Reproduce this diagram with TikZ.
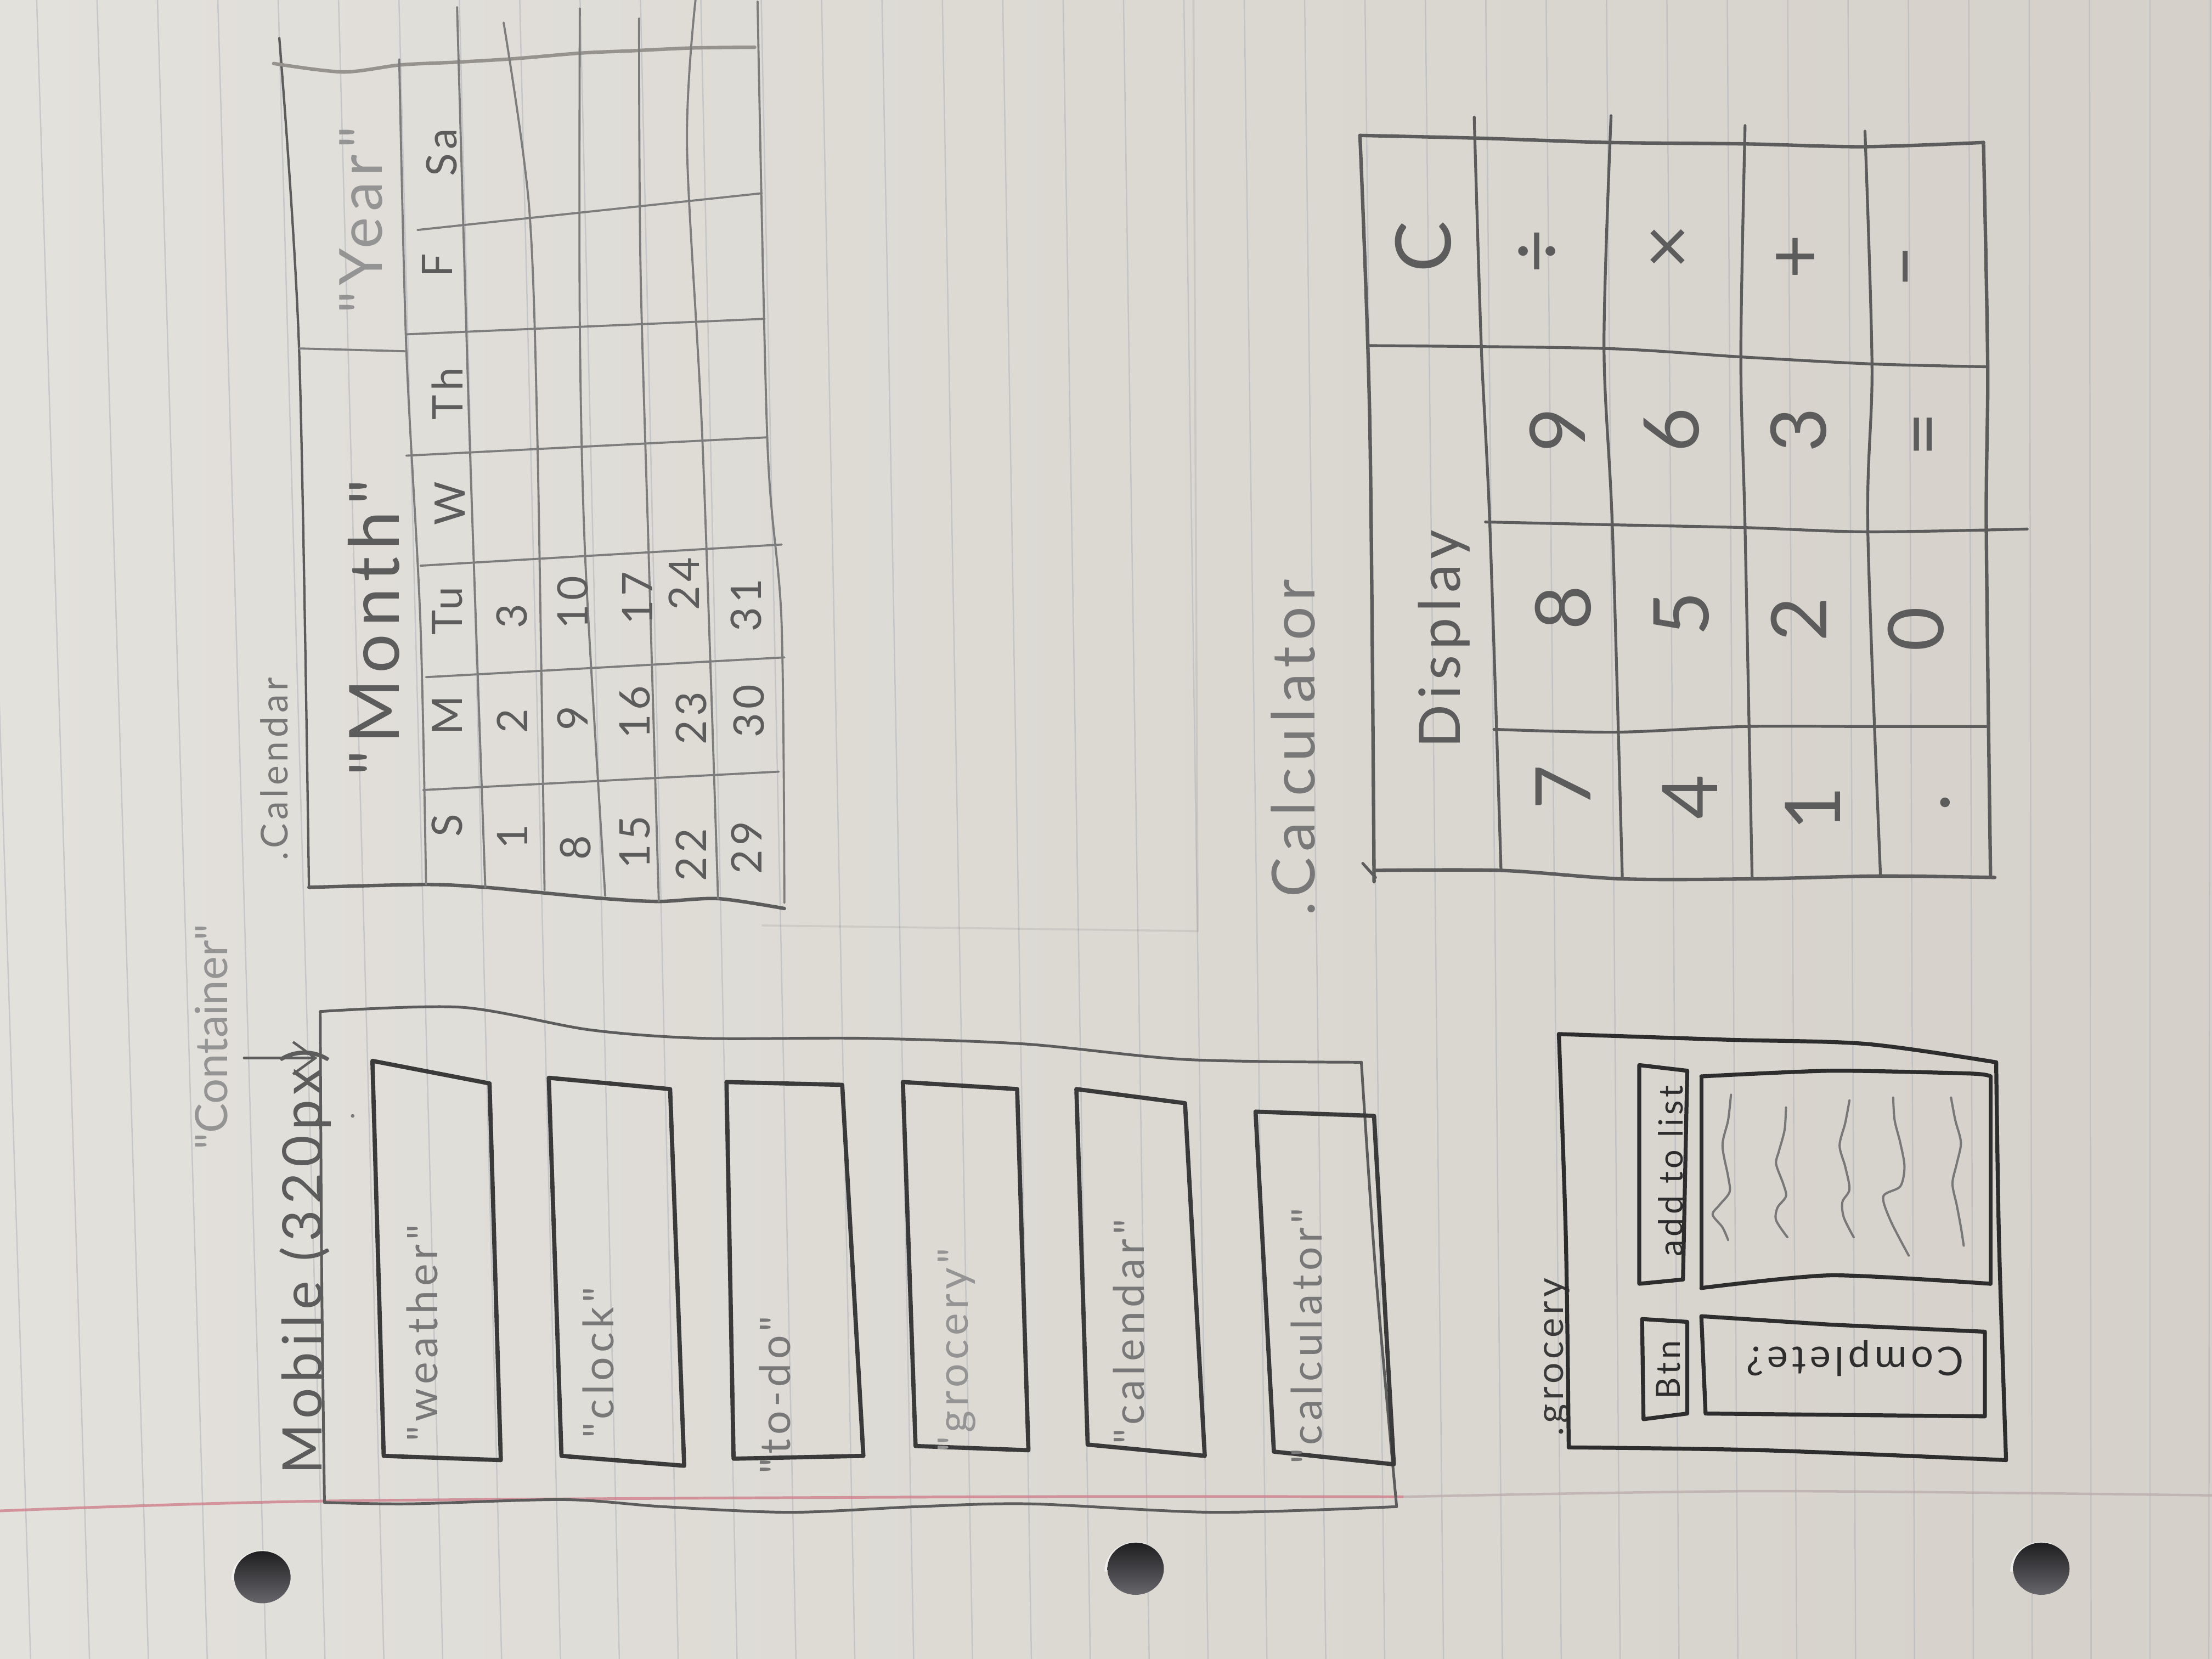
\documentclass[tikz,border=0pt]{standalone}
\usepackage{fontspec}
\usetikzlibrary{arrows.meta}
\newfontfamily\hand[LetterSpace=10]{Lato}
\newfontfamily\handtight{Lato}
\newcommand\handsz[1]{\hand\fontsize{#1}{#1}\selectfont}
\newcommand\handtsz[1]{\handtight\fontsize{#1}{#1}\selectfont}

\definecolor{paperL}{RGB}{227,225,220}
\definecolor{paperR}{RGB}{213,209,202}
\definecolor{rulecol}{RGB}{176,180,188}
\definecolor{margincol}{RGB}{206,128,140}
\definecolor{marginfade}{RGB}{185,170,170}
\definecolor{ink1}{RGB}{92,92,92}
\definecolor{ink2}{RGB}{120,120,120}
\definecolor{ink3}{RGB}{148,148,148}
\definecolor{inkdark}{RGB}{58,58,58}
\definecolor{inkvdark}{RGB}{45,45,45}
\definecolor{gridcol}{RGB}{125,125,125}
\definecolor{toplinecol}{RGB}{150,146,142}
\definecolor{holetop}{RGB}{28,28,30}
\definecolor{holebot}{RGB}{105,105,110}
\definecolor{holerim}{RGB}{245,245,245}

\tikzset{
  pencil/.style={line cap=round, line join=round},
  frame/.style={pencil, draw=ink1, line width=1.1pt},
  widget/.style={pencil, draw=inkdark, line width=1.7pt},
  grid/.style={pencil, draw=gridcol, line width=0.85pt},
  calcline/.style={pencil, draw=ink1, line width=1.15pt},
  groc/.style={pencil, draw=inkvdark, line width=1.6pt},
  squig/.style={pencil, draw=ink2, line width=0.9pt},
  ruled/.style={draw=rulecol, line width=0.55pt, opacity=0.55},
  htext/.style={anchor=base, rotate=90, inner sep=0pt},
  ctext/.style={anchor=center, rotate=90, inner sep=0pt},
}

\begin{document}
\begin{tikzpicture}[x=0.02cm, y=-0.02cm]
\useasboundingbox (0,0) rectangle (1568,1176);
\clip (0,0) rectangle (1568,1176);

% notebook paper
\shade[left color=paperL, right color=paperR] (0,0) rectangle (1568,1176);
\foreach \m in {-6,...,31} {
  \pgfmathsetmacro\xb{270+41.8*\m}
  \pgfmathsetmacro\sl{30-\m}
  \draw[ruled] ({\xb-\sl},0) -- ({\xb+0.07*\sl},1176);
}
\draw[margincol, line width=1.1pt, opacity=0.8] plot[smooth] coordinates {(0,1071) (232,1064) (700,1061) (995,1061)};
\draw[marginfade, line width=1pt, opacity=0.7] plot[smooth] coordinates {(995,1061) (1250,1057) (1568,1060)};
% faint impression of another sheet
\draw[draw=black, opacity=0.07, line width=0.8pt] (540,656) -- (849,660) -- (846,0);

% punched holes
\foreach \hx/\hy in {186/1118, 805/1112, 1447/1112} {
  \draw[holerim, line width=1.2pt, opacity=0.8] ({\hx-21},{\hy+2}) arc[start angle=180, end angle=290, x radius=21, y radius=20];
  \begin{scope}
    \clip (\hx,\hy) ellipse [x radius=20, y radius=18.5];
    \shade[top color=holetop, bottom color=holebot] ({\hx-21},{\hy-20}) rectangle ({\hx+21},{\hy+20});
  \end{scope}
}

% ---------------- mobile container ----------------
\draw[frame] plot[smooth, tension=0.5] coordinates {(227,717) (228,900) (230,1065)};
\draw[frame] plot[smooth, tension=0.5] coordinates {(227,717) (327,714) (418,730) (498,736) (612,736) (726,740) (840,751) (965,753)};
\draw[frame] plot[smooth, tension=0.5] coordinates {(965,753) (975,900) (990,1068)};
\draw[frame] plot[smooth, tension=0.5] coordinates {(230,1065) (290,1066) (400,1063) (470,1068) (560,1072) (650,1068) (730,1066) (860,1072) (990,1068)};

\draw[widget] (264,752) -- (347,768) -- (355,1035) -- (272,1032) -- cycle;
\draw[widget] (389,764) -- (475,772) -- (485,1039) -- (398,1032) -- cycle;
\draw[widget] (515,767) -- (597,769) -- (612,1032) -- (520,1034) -- cycle;
\draw[widget] (640,767) -- (721,772) -- (729,1028) -- (649,1025) -- cycle;
\draw[widget] (763,772) -- (840,782) -- (854,1032) -- (771,1024) -- cycle;
\draw[widget] (890,788) -- (974,791) -- (988,1038) -- (903,1029) -- cycle;

\node[htext, text=ink3, font=\handtsz{18}] (lbl-container) at (161,735) {"Container"};
\coordinate (arr-start) at (173,750);
\coordinate (arr-tip) at (225,750);
\draw[frame, line width=1pt, -{Straight Barb[length=9pt, width=13pt]}] (arr-start) -- (arr-tip);
\node[htext, text=ink1, font=\handsz{22}] (lbl-mobile) at (228,894) {Mobile (320px)};
\fill[ink2] (250,791) circle (1.3);

\node[htext, text=ink2, font=\handsz{17}] (lbl-weather) at (310,945) {"weather"};
\node[htext, text=ink2, font=\handsz{17}] (lbl-clock) at (435,966) {"clock"};
\node[htext, text=ink2, font=\handsz{17}] (lbl-todo) at (560,989) {"to-do"};
\node[htext, text=ink3, font=\handsz{17}] (lbl-grocery) at (686,957) {"grocery"};
\node[htext, text=ink2, font=\handsz{17}] (lbl-calendar) at (811,944) {"calendar"};
\node[htext, text=ink2, font=\handsz{17}] (lbl-calculator) at (937,947) {"calculator"};

% ---------------- calendar ----------------
\node[htext, text=ink2, font=\handsz{15}] (cal-title) at (204,545) {.Calendar};
% frame
\draw[frame, line width=0.95pt] plot[smooth, tension=0.5] coordinates {(198,27) (212,247) (219,629)};
\draw[pencil, draw=toplinecol, line width=1.4pt] plot[smooth, tension=0.5] coordinates {(194,45) (243,51) (284,46) (325,44) (366,41.5) (412,37.6) (448,36) (491,34) (535,33.5)};
\draw[grid] plot[smooth, tension=0.5] coordinates {(537,1) (544,314) (554,441) (556,640)};
\draw[pencil, draw=ink1, line width=1.4pt] plot[smooth, tension=0.5] coordinates {(219,629) (302,627) (344,629) (386,633) (429,637) (467,639) (509,637) (556,644)};
% header column and year box
\draw[grid] plot[smooth, tension=0.5] coordinates {(283,42) (288,247) (298,441) (302,627)};
\draw[grid] (212,247) -- (288,249);
% week columns
\draw[grid] plot[smooth, tension=0.5] coordinates {(324,5) (333,314) (344,629)};
\draw[grid] plot[smooth, tension=0.5] coordinates {(357,16) (375,146) (381,314) (386,631)};
\draw[grid] plot[smooth, tension=0.5] coordinates {(411,6) (411,230) (415,399) (429,635)};
\draw[grid] plot[smooth, tension=0.5] coordinates {(453,13) (454,188) (460,399) (467,639)};
\draw[grid] plot[smooth, tension=0.5] coordinates {(493,0) (487,104) (498,314) (509,637)};
% weekday rows
\draw[grid] (296,163) -- (540,137);
\draw[grid] (288,237) -- (542,226);
\draw[grid] (288,323) -- (544,310);
\draw[grid] (298,401) -- (554,386);
\draw[grid] (302,480) -- (556,466);
\draw[grid] (300,560) -- (552,547);

\node[htext, text=ink1, font=\handsz{28}] (cal-month) at (283,445) {"Month"};
\node[htext, text=ink3, font=\handsz{24}] (cal-year) at (271,156) {"Year"};

\foreach \t/\x/\y [count=\i] in {
  S/317/585, M/317/507, Tu/317/433, W/319/357, Th/317/279, F/310/188, Sa/313/108,
  1/363/593, 2/363/511, 3/363/437,
  8/408/601, 9/406/509, 10/406/427,
  15/450/597, 16/450/505, 17/452/424,
  22/490/606, 23/490/509, 24/485/414,
  29/529/601, 30/531/504, 31/529/429}
  \node[ctext, text=ink1, font=\handsz{17}] (cal-\i) at (\x,\y) {\t};

% ---------------- calculator ----------------
\node[htext, text=ink2, font=\handsz{24}] (calc-title) at (932,530) {.Calculator};
% frame
\draw[calcline, line width=1.4pt] plot[smooth, tension=0.5] coordinates {(964,96) (1050,98) (1140,101) (1237,102) (1321,104) (1406,101)};
\draw[calcline, line width=1.4pt] plot[smooth, tension=0.5] coordinates {(1406,101) (1409,260) (1408,375) (1411,621)};
\draw[calcline, line width=1.4pt] plot[smooth, tension=0.5] coordinates {(974,617) (1064,617) (1150,623) (1242,623) (1333,621) (1414,622)};
\draw[calcline, line width=1.4pt] plot[smooth, tension=0.5] coordinates {(964,96) (971,300) (974,625)};
\draw[calcline] (966,612) -- (975,622);
% key grid
\draw[calcline] plot[smooth, tension=0.5] coordinates {(1045,83) (1050,245) (1056,370) (1064,617)};
\draw[calcline] plot[smooth, tension=0.5] coordinates {(1142,82) (1137,245) (1143,375) (1150,623)};
\draw[calcline] plot[smooth, tension=0.5] coordinates {(1237,89) (1234,253) (1237,375) (1242,623)};
\draw[calcline] plot[smooth, tension=0.5] coordinates {(1322,93) (1327,260) (1324,375) (1333,621)};
\draw[calcline] plot[smooth, tension=0.5] coordinates {(971,245) (1137,247) (1234,253) (1327,258) (1409,260)};
\draw[calcline] plot[smooth, tension=0.5] coordinates {(1053,370) (1143,372) (1237,374) (1324,377) (1437,375)};
\draw[calcline] plot[smooth, tension=0.5] coordinates {(1059,517) (1146,519) (1237,515) (1324,515) (1408,515)};

\node[htext, text=ink1, font=\handsz{23}] (calc-display) at (1035,453) {Display};
\foreach \t/\x/\y [count=\i] in {
  C/1009/175, ÷/1092/178, ×/1185/175, +/1275/182, –/1358/189,
  9/1104/305, 6/1185/305, 3/1275/305, =/1369/308,
  8/1108/431, 5/1192/435, 2/1275/439, 0/1358/446,
  7/1108/558, 4/1198/565, 1/1285/573, ./1379/569}
  \node[ctext, text=ink1, font=\handsz{31}] (calc-key-\i) at (\x,\y) {\t};

% ---------------- grocery ----------------
\node[htext, text=inkdark, font=\handsz{15}] (groc-title) at (1108,962) {.grocery};
\draw[groc] plot[smooth, tension=0.5] coordinates {(1105,733) (1224,737) (1323,740) (1415,753)};
\draw[groc] plot[smooth, tension=0.5] coordinates {(1415,753) (1417,879) (1422,1035)};
\draw[groc] plot[smooth, tension=0.5] coordinates {(1112,1026) (1249,1028) (1422,1035)};
\draw[groc] plot[smooth, tension=0.5] coordinates {(1105,733) (1110,879) (1112,1026)};

\draw[groc] (1162,755) -- (1196,759) -- (1193,907) -- (1162,910) -- cycle;
\draw[groc] plot[smooth, tension=0.4] coordinates {(1206,763) (1298,759) (1397,761) (1411,763)};
\draw[groc] (1411,763) -- (1411,910);
\draw[groc] plot[smooth, tension=0.4] coordinates {(1411,910) (1298,904) (1206,913)};
\draw[groc] (1206,913) -- (1206,763);
\draw[groc] (1164,935) -- (1196,937) -- (1196,1002) -- (1165,1006) -- cycle;
\draw[groc] (1206,933) -- (1298,939) -- (1407,944) -- (1407,1004) -- (1209,1002) -- (1206,933);

\draw[squig] plot[smooth] coordinates {(1227,776) (1225,794) (1221,812) (1225,834) (1226,845) (1219,854) (1214,861) (1221,870) (1225,879)};
\draw[squig] plot[smooth] coordinates {(1266,785) (1265,801) (1261,816) (1259,825) (1264,839) (1266,848) (1260,856) (1259,865) (1267,877)};
\draw[squig] plot[smooth] coordinates {(1311,780) (1308,796) (1304,812) (1308,827) (1311,843) (1306,852) (1307,863) (1314,877)};
\draw[squig] plot[smooth] coordinates {(1342,778) (1343,794) (1347,810) (1350,827) (1347,841) (1335,848) (1340,865) (1353,890)};
\draw[squig] plot[smooth] coordinates {(1383,778) (1386,794) (1390,810) (1387,825) (1384,839) (1387,854) (1390,870) (1392,883)};

\node[htext, text=inkvdark, font=\handsz{13.5}] (groc-add) at (1193,830) {add to list};
\node[htext, text=inkvdark, font=\handsz{13.5}] (groc-btn) at (1191,971) {Btn};
\node[anchor=base, rotate=180, inner sep=0pt, text=inkvdark, font=\handsz{16}] (groc-complete) at (1315,955) {Complete?};

\end{tikzpicture}
\end{document}
